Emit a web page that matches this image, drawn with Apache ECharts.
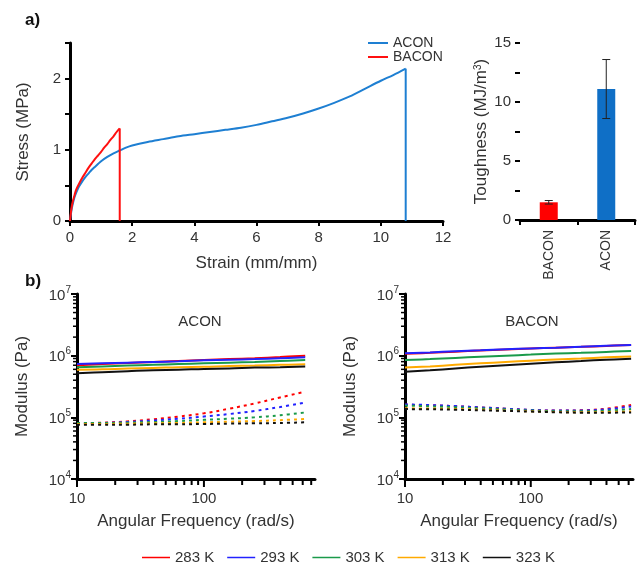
<!DOCTYPE html>
<html><head><meta charset="utf-8">
<script src="https://cdn.jsdelivr.net/npm/echarts@6/dist/echarts.min.js"></script>
<style>html,body{margin:0;padding:0;background:#fff}#c{width:639px;height:567px}</style>
</head><body><div id="c"></div>
<script>
// ---- Panel a: stress-strain (last point = vertical drop at failure) ----
const strainACON = [0,0.03,0.06,0.1,0.15,0.2,0.25,0.3,0.4,0.5,0.6,0.7,0.8,0.9,1.0,1.2,1.4,1.6,1.8,2.0,2.5,3,3.5,4,4.5,5,5.5,6,6.5,7,7.5,8,8.5,9,9.5,10,10.4,10.8,10.8];
const stressACON = [0,0.1,0.18,0.26,0.34,0.4,0.45,0.49,0.56,0.62,0.67,0.72,0.76,0.8,0.84,0.9,0.95,0.99,1.03,1.06,1.11,1.15,1.19,1.22,1.25,1.28,1.31,1.35,1.4,1.45,1.51,1.58,1.66,1.75,1.86,1.97,2.05,2.14,0];
const strainBACON = [0,0.03,0.06,0.1,0.15,0.2,0.3,0.4,0.5,0.6,0.7,0.8,0.9,1.0,1.1,1.2,1.3,1.4,1.5,1.6,1.6];
const stressBACON = [0,0.12,0.21,0.29,0.37,0.44,0.53,0.61,0.68,0.75,0.81,0.87,0.92,0.97,1.03,1.08,1.14,1.19,1.25,1.30,0];

// ---- Panel a: toughness ----
const toughCats = ['BACON','ACON'];
const toughVals = [1.5, 11.1];
const toughErr = [0.15, 2.5];

// ---- Panel b: rheology ----
const temps = ['283 K','293 K','303 K','313 K','323 K'];
const freq = [10,15.8,25.1,39.8,63.1,100,158,251,398,628];
// ACON storage modulus (solid)
const aconG1_283 = [7.0e5,7.3e5,7.6e5,7.9e5,8.2e5,8.5e5,8.8e5,9.1e5,9.5e5,1.0e6];
const aconG1_293 = [7.3e5,7.5e5,7.7e5,7.9e5,8.1e5,8.4e5,8.6e5,8.8e5,9.1e5,9.4e5];
const aconG1_303 = [6.5e5,6.7e5,6.9e5,7.1e5,7.3e5,7.5e5,7.7e5,7.9e5,8.2e5,8.5e5];
const aconG1_313 = [5.9e5,6.0e5,6.2e5,6.3e5,6.5e5,6.6e5,6.8e5,6.9e5,7.1e5,7.25e5];
const aconG1_323 = [5.2e5,5.4e5,5.6e5,5.8e5,5.9e5,6.1e5,6.2e5,6.4e5,6.5e5,6.65e5];
// ACON loss modulus (dashed)
const aconG2_283 = [8.0e4,8.2e4,8.6e4,9.3e4,1.03e5,1.16e5,1.38e5,1.68e5,2.1e5,2.6e5];
const aconG2_293 = [8.0e4,8.1e4,8.4e4,8.9e4,9.5e4,1.03e5,1.13e5,1.27e5,1.47e5,1.74e5];
const aconG2_303 = [8.1e4,8.1e4,8.2e4,8.4e4,8.7e4,9.1e4,9.5e4,1.0e5,1.08e5,1.2e5];
const aconG2_313 = [7.8e4,7.8e4,7.9e4,8.0e4,8.1e4,8.3e4,8.5e4,8.7e4,9.0e4,9.4e4];
const aconG2_323 = [7.6e4,7.6e4,7.6e4,7.7e4,7.7e4,7.8e4,7.9e4,8.0e4,8.1e4,8.3e4];
// BACON storage modulus (solid)
const baconG1_283 = [1.07e6,1.11e6,1.16e6,1.21e6,1.26e6,1.31e6,1.35e6,1.39e6,1.44e6,1.49e6];
const baconG1_293 = [1.09e6,1.13e6,1.18e6,1.22e6,1.27e6,1.31e6,1.35e6,1.40e6,1.45e6,1.49e6];
const baconG1_303 = [8.5e5,8.8e5,9.2e5,9.6e5,1.0e6,1.04e6,1.08e6,1.11e6,1.15e6,1.19e6];
const baconG1_313 = [6.4e5,6.7e5,7.1e5,7.5e5,7.9e5,8.3e5,8.7e5,9.0e5,9.4e5,9.7e5];
const baconG1_323 = [5.5e5,5.8e5,6.2e5,6.6e5,7.0e5,7.4e5,7.8e5,8.2e5,8.6e5,8.9e5];
// BACON loss modulus (dashed)
const baconG2_283 = [1.60e5,1.57e5,1.52e5,1.45e5,1.38e5,1.32e5,1.29e5,1.30e5,1.38e5,1.59e5];
const baconG2_293 = [1.62e5,1.58e5,1.52e5,1.45e5,1.38e5,1.32e5,1.29e5,1.29e5,1.35e5,1.50e5];
const baconG2_303 = [1.55e5,1.51e5,1.46e5,1.40e5,1.34e5,1.29e5,1.26e5,1.25e5,1.28e5,1.36e5];
const baconG2_313 = [1.40e5,1.39e5,1.37e5,1.33e5,1.29e5,1.25e5,1.22e5,1.21e5,1.22e5,1.24e5];
const baconG2_323 = [1.36e5,1.35e5,1.33e5,1.30e5,1.27e5,1.24e5,1.21e5,1.19e5,1.19e5,1.20e5];

// tick positions for the log axes
const freqTicksA = [10,20,30,40,50,60,70,80,90,100,200,300,400,500,600,700];
const freqTicksB = [10,20,30,40,50,60,70,80,90,100,200,300,400,500,600];
const modMinorTicks = [2e4,3e4,4e4,5e4,6e4,7e4,8e4,9e4,2e5,3e5,4e5,5e5,6e5,7e5,8e5,9e5,2e6,3e6,4e6,5e6,6e6,7e6,8e6,9e6];

const FONT = "'Liberation Sans', Arial, sans-serif";
const TXT = '#333';
const tempColors = ['#ff0000','#2222ff','#1a9a4a','#ffaa00','#111111'];
const ACON_C = '#1e7fd2', BACON_C = '#ff1010';

const zip = (a,b) => a.map((v,i)=>[v,b[i]]);

const chart = echarts.init(document.getElementById('c'), null, {renderer:'canvas'});

const axisLineStyle = {lineStyle:{color:'#000', width:3}};
const tickStyle = {show:true, inside:false, length:5, lineStyle:{color:'#000', width:2}};
const lblStyle = {color:TXT, fontSize:15, fontFamily:FONT};
const nameStyle = {color:TXT, fontSize:17, fontFamily:FONT};

function logYAxis(grid){
  return {
    type:'log', logBase:10, gridIndex:grid, min:1e4, max:1e7,
    axisLine:axisLineStyle, axisTick:{show:true, length:6, lineStyle:{color:'#000', width:2}},
    splitLine:{show:false},
    axisLabel:{margin:6, fontFamily:FONT, color:TXT,
      formatter: v => '{b|10}{s|' + Math.round(Math.log10(v)) + '}',
      rich:{b:{fontSize:15, fontFamily:FONT, color:TXT, lineHeight:18, verticalAlign:'bottom'},
            s:{fontSize:10, fontFamily:FONT, color:TXT, verticalAlign:'top', lineHeight:10}}},
    name:'Modulus (Pa)', nameLocation:'middle', nameGap:46, nameTextStyle:nameStyle
  };
}
function logXAxis(grid, max){
  return {
    type:'log', logBase:10, gridIndex:grid, min:10, max:max,
    axisLine:axisLineStyle, axisTick:{show:false}, splitLine:{show:false},
    axisLabel:{margin:12, color:TXT, fontSize:15, fontFamily:FONT,
      formatter: v => { const l = Math.log10(v); return (Math.abs(l-Math.round(l))<1e-6 && v<500) ? String(Math.round(v)) : ''; }},
    name:'Angular Frequency (rad/s)', nameLocation:'middle', nameGap:34, nameTextStyle:nameStyle
  };
}

function xTickSeries(xi, yi, ticks){
  return {
    type:'custom', xAxisIndex:xi, yAxisIndex:yi, silent:true, clip:false, z:5,
    data: ticks.map(t => [t, 1e4]),
    renderItem:(params, api) => {
      const v = api.value(0);
      const p = api.coord([v, api.value(1)]);
      const l = Math.log10(v);
      const major = Math.abs(l - Math.round(l)) < 1e-6;
      return {type:'line', shape:{x1:p[0], y1:p[1]+1, x2:p[0], y2:p[1]+(major?8:6)}, style:{stroke:'#000', lineWidth:2}};
    }
  };
}
function yTickSeries(xi, yi){
  return {
    type:'custom', xAxisIndex:xi, yAxisIndex:yi, silent:true, clip:false, z:5,
    data: modMinorTicks.map(t => [10, t]),
    renderItem:(params, api) => {
      const p = api.coord([api.value(0), api.value(1)]);
      return {type:'line', shape:{x1:p[0]-1, y1:p[1], x2:p[0]-4, y2:p[1]}, style:{stroke:'#000', lineWidth:1.5}};
    }
  };
}

const aconG1 = [aconG1_283,aconG1_293,aconG1_303,aconG1_313,aconG1_323];
const aconG2 = [aconG2_283,aconG2_293,aconG2_303,aconG2_313,aconG2_323];
const baconG1 = [baconG1_283,baconG1_293,baconG1_303,baconG1_313,baconG1_323];
const baconG2 = [baconG2_283,baconG2_293,baconG2_303,baconG2_313,baconG2_323];

const modSeries = [];
function addMod(xi, yi, solidSets, dashSets){
  solidSets.forEach((d,i)=>modSeries.push({
    type:'line', name:temps[i], xAxisIndex:xi, yAxisIndex:yi, data:zip(freq,d),
    showSymbol:false, symbol:'none', smooth:0.4,
    itemStyle:{color:tempColors[i]}, lineStyle:{color:tempColors[i], width:2}
  }));
  dashSets.forEach((d,i)=>modSeries.push({
    type:'line', name:temps[i], xAxisIndex:xi, yAxisIndex:yi, data:zip(freq,d),
    showSymbol:false, symbol:'none', smooth:0.4,
    itemStyle:{color:tempColors[i]}, lineStyle:{color:tempColors[i], width:2, type:[3,4]}
  }));
}
addMod(2,2,aconG1,aconG2);
addMod(3,3,baconG1,baconG2);

// stress-strain: smooth curve part + straight failure drop (same legend name)
function stressSeries(name, color, xs, ys){
  const pts = zip(xs, ys);
  const n = pts.length;
  return [
    {type:'line', name, xAxisIndex:0, yAxisIndex:0, data:pts.slice(0, n-1), showSymbol:false, symbol:'none', smooth:0.3,
     itemStyle:{color}, lineStyle:{color, width:2}},
    {type:'line', name, xAxisIndex:0, yAxisIndex:0, data:pts.slice(n-2), showSymbol:false, symbol:'none', smooth:false,
     itemStyle:{color}, lineStyle:{color, width:2}}
  ];
}

const option = {
  animation:false,
  backgroundColor:'#fff',
  textStyle:{fontFamily:FONT},
  grid:[
    {left:70, top:43, width:373, height:178},
    {left:520, top:43, width:115, height:177},
    {left:77, top:294, width:238, height:185},
    {left:405, top:294, width:228, height:185}
  ],
  legend:[
    {data:['ACON','BACON'], orient:'vertical', left:368, top:36, icon:'rect', itemWidth:20, itemHeight:2, itemGap:0, padding:0,
     textStyle:{color:TXT, fontSize:14, fontFamily:FONT}, selectedMode:false},
    {data:temps, orient:'horizontal', left:142, top:550, icon:'rect', itemWidth:28, itemHeight:1.5, itemGap:13, padding:0,
     textStyle:{color:TXT, fontSize:15, fontFamily:FONT}, selectedMode:false}
  ],
  graphic:[
    {type:'text', x:25, y:20, style:{text:'a)', fontSize:17, fontWeight:'bold', fontFamily:FONT, fill:'#111', verticalAlign:'middle'}},
    {type:'text', x:25, y:281, style:{text:'b)', fontSize:17, fontWeight:'bold', fontFamily:FONT, fill:'#111', verticalAlign:'middle'}},
    {type:'text', x:200, y:322, style:{text:'ACON', fontSize:15, fontFamily:FONT, fill:TXT, align:'center', verticalAlign:'middle'}},
    {type:'text', x:532, y:322, style:{text:'BACON', fontSize:15, fontFamily:FONT, fill:TXT, align:'center', verticalAlign:'middle'}}
  ],
  xAxis:[
    {type:'value', gridIndex:0, min:0, max:12, interval:2, axisLine:axisLineStyle, axisTick:tickStyle, splitLine:{show:false},
     axisLabel:Object.assign({margin:9}, lblStyle),
     name:'Strain (mm/mm)', nameLocation:'middle', nameGap:34, nameTextStyle:nameStyle},
    {type:'category', gridIndex:1, data:toughCats, axisLine:axisLineStyle, axisTick:tickStyle, splitLine:{show:false},
     axisLabel:{rotate:90, margin:10, color:TXT, fontSize:14, fontFamily:FONT}},
    logXAxis(2, 750),
    logXAxis(3, 650)
  ],
  yAxis:[
    {type:'value', gridIndex:0, min:0, max:2.5, interval:0.5, axisLine:axisLineStyle, axisTick:tickStyle, splitLine:{show:false},
     axisLabel:Object.assign({margin:9, formatter: v => (Math.abs(v-Math.round(v))<1e-9 ? String(v) : '')}, lblStyle),
     name:'Stress (MPa)', nameLocation:'middle', nameGap:38, nameTextStyle:nameStyle},
    {type:'value', gridIndex:1, min:0, max:15, interval:2.5, axisLine:axisLineStyle, axisTick:tickStyle, splitLine:{show:false},
     axisLabel:Object.assign({margin:9, formatter: v => (Math.abs(v/5-Math.round(v/5))<1e-9 ? String(v) : '')}, lblStyle),
     name:'Toughness (MJ/m{s|3})', nameLocation:'middle', nameGap:30,
     nameTextStyle:Object.assign({rich:{s:{fontSize:10, fontFamily:FONT, color:TXT, verticalAlign:'top', lineHeight:12}}}, nameStyle)},
    logYAxis(2),
    logYAxis(3)
  ],
  series:[
    ...stressSeries('ACON', ACON_C, strainACON, stressACON),
    ...stressSeries('BACON', BACON_C, strainBACON, stressBACON),
    {type:'bar', name:'Toughness', xAxisIndex:1, yAxisIndex:1, barWidth:18,
     data: toughVals.map((v,i)=>({value:v, itemStyle:{color: i===0 ? '#ff0000' : '#0f6fc6'}}))},
    {type:'custom', name:'err', xAxisIndex:1, yAxisIndex:1, silent:true, z:10,
     data: toughVals.map((v,i)=>[i, v-toughErr[i], v+toughErr[i]]),
     renderItem:(params, api) => {
       const lo = api.coord([api.value(0), api.value(1)]);
       const hi = api.coord([api.value(0), api.value(2)]);
       const w = 4;
       return {type:'group', children:[
         {type:'line', shape:{x1:lo[0], y1:lo[1], x2:hi[0], y2:hi[1]}, style:{stroke:'#222', lineWidth:1}},
         {type:'line', shape:{x1:lo[0]-w, y1:lo[1], x2:lo[0]+w, y2:lo[1]}, style:{stroke:'#222', lineWidth:1}},
         {type:'line', shape:{x1:hi[0]-w, y1:hi[1], x2:hi[0]+w, y2:hi[1]}, style:{stroke:'#222', lineWidth:1}}
       ]};
     }},
    ...modSeries,
    xTickSeries(2,2,freqTicksA),
    xTickSeries(3,3,freqTicksB),
    yTickSeries(2,2),
    yTickSeries(3,3)
  ]
};
chart.setOption(option);
</script>
</body></html>
